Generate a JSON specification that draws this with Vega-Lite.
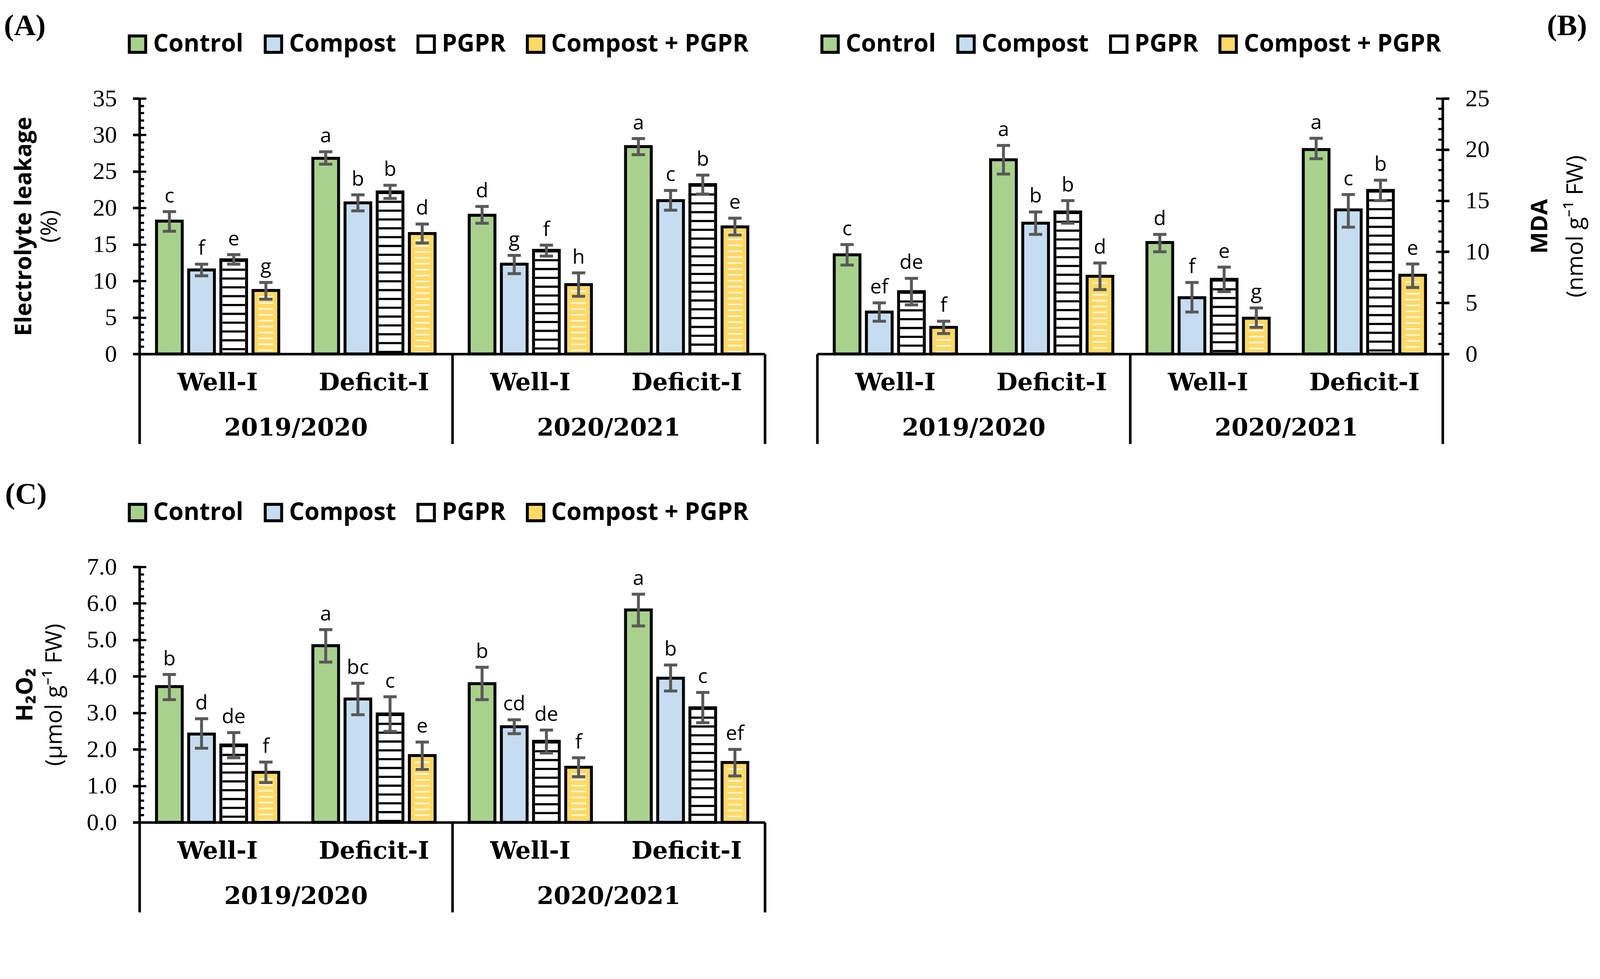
{
  "$schema": "https://vega.github.io/schema/vega-lite/v6.json",
  "background": "white",
  "padding": {"left": 9, "top": 28, "right": 5, "bottom": 5},
  "config": {
    "view": {"stroke": null},
    "axis": {"labelColor": "black", "titleColor": "black"}
  },
  "datasets": {
    "EL": [
      {"year":"2019/2020","cell":"2019/2020 Well-I","trt":"Control","v":18.2,"lo":16.8,"hi":19.5,"let":"c"},
      {"year":"2019/2020","cell":"2019/2020 Well-I","trt":"Compost","v":11.5,"lo":10.7,"hi":12.3,"let":"f"},
      {"year":"2019/2020","cell":"2019/2020 Well-I","trt":"PGPR","v":12.9,"lo":12.3,"hi":13.6,"let":"e"},
      {"year":"2019/2020","cell":"2019/2020 Well-I","trt":"Compost + PGPR","v":8.7,"lo":7.5,"hi":9.8,"let":"g"},
      {"year":"2019/2020","cell":"2019/2020 Deficit-I","trt":"Control","v":26.8,"lo":26.0,"hi":27.7,"let":"a"},
      {"year":"2019/2020","cell":"2019/2020 Deficit-I","trt":"Compost","v":20.7,"lo":19.6,"hi":21.8,"let":"b"},
      {"year":"2019/2020","cell":"2019/2020 Deficit-I","trt":"PGPR","v":22.2,"lo":21.3,"hi":23.1,"let":"b"},
      {"year":"2019/2020","cell":"2019/2020 Deficit-I","trt":"Compost + PGPR","v":16.5,"lo":15.2,"hi":17.8,"let":"d"},
      {"year":"2020/2021","cell":"2020/2021 Well-I","trt":"Control","v":19.0,"lo":17.9,"hi":20.2,"let":"d"},
      {"year":"2020/2021","cell":"2020/2021 Well-I","trt":"Compost","v":12.3,"lo":11.0,"hi":13.5,"let":"g"},
      {"year":"2020/2021","cell":"2020/2021 Well-I","trt":"PGPR","v":14.2,"lo":13.4,"hi":14.9,"let":"f"},
      {"year":"2020/2021","cell":"2020/2021 Well-I","trt":"Compost + PGPR","v":9.5,"lo":7.9,"hi":11.1,"let":"h"},
      {"year":"2020/2021","cell":"2020/2021 Deficit-I","trt":"Control","v":28.4,"lo":27.3,"hi":29.5,"let":"a"},
      {"year":"2020/2021","cell":"2020/2021 Deficit-I","trt":"Compost","v":21.0,"lo":19.7,"hi":22.4,"let":"c"},
      {"year":"2020/2021","cell":"2020/2021 Deficit-I","trt":"PGPR","v":23.2,"lo":21.9,"hi":24.5,"let":"b"},
      {"year":"2020/2021","cell":"2020/2021 Deficit-I","trt":"Compost + PGPR","v":17.4,"lo":16.3,"hi":18.6,"let":"e"}
    ],
    "MDA": [
      {"year":"2019/2020","cell":"2019/2020 Well-I","trt":"Control","v":9.7,"lo":8.7,"hi":10.7,"let":"c"},
      {"year":"2019/2020","cell":"2019/2020 Well-I","trt":"Compost","v":4.1,"lo":3.2,"hi":5.0,"let":"ef"},
      {"year":"2019/2020","cell":"2019/2020 Well-I","trt":"PGPR","v":6.1,"lo":4.8,"hi":7.4,"let":"de"},
      {"year":"2019/2020","cell":"2019/2020 Well-I","trt":"Compost + PGPR","v":2.6,"lo":2.0,"hi":3.2,"let":"f"},
      {"year":"2019/2020","cell":"2019/2020 Deficit-I","trt":"Control","v":19.0,"lo":17.6,"hi":20.4,"let":"a"},
      {"year":"2019/2020","cell":"2019/2020 Deficit-I","trt":"Compost","v":12.8,"lo":11.7,"hi":13.9,"let":"b"},
      {"year":"2019/2020","cell":"2019/2020 Deficit-I","trt":"PGPR","v":13.9,"lo":12.8,"hi":15.0,"let":"b"},
      {"year":"2019/2020","cell":"2019/2020 Deficit-I","trt":"Compost + PGPR","v":7.6,"lo":6.3,"hi":8.9,"let":"d"},
      {"year":"2020/2021","cell":"2020/2021 Well-I","trt":"Control","v":10.9,"lo":10.0,"hi":11.7,"let":"d"},
      {"year":"2020/2021","cell":"2020/2021 Well-I","trt":"Compost","v":5.5,"lo":4.1,"hi":7.0,"let":"f"},
      {"year":"2020/2021","cell":"2020/2021 Well-I","trt":"PGPR","v":7.3,"lo":6.1,"hi":8.5,"let":"e"},
      {"year":"2020/2021","cell":"2020/2021 Well-I","trt":"Compost + PGPR","v":3.5,"lo":2.6,"hi":4.5,"let":"g"},
      {"year":"2020/2021","cell":"2020/2021 Deficit-I","trt":"Control","v":20.0,"lo":19.1,"hi":21.1,"let":"a"},
      {"year":"2020/2021","cell":"2020/2021 Deficit-I","trt":"Compost","v":14.1,"lo":12.4,"hi":15.6,"let":"c"},
      {"year":"2020/2021","cell":"2020/2021 Deficit-I","trt":"PGPR","v":16.0,"lo":15.0,"hi":17.0,"let":"b"},
      {"year":"2020/2021","cell":"2020/2021 Deficit-I","trt":"Compost + PGPR","v":7.7,"lo":6.5,"hi":8.8,"let":"e"}
    ],
    "H2O2": [
      {"year":"2019/2020","cell":"2019/2020 Well-I","trt":"Control","v":3.72,"lo":3.36,"hi":4.05,"let":"b"},
      {"year":"2019/2020","cell":"2019/2020 Well-I","trt":"Compost","v":2.42,"lo":2.03,"hi":2.84,"let":"d"},
      {"year":"2019/2020","cell":"2019/2020 Well-I","trt":"PGPR","v":2.12,"lo":1.77,"hi":2.46,"let":"de"},
      {"year":"2019/2020","cell":"2019/2020 Well-I","trt":"Compost + PGPR","v":1.37,"lo":1.09,"hi":1.65,"let":"f"},
      {"year":"2019/2020","cell":"2019/2020 Deficit-I","trt":"Control","v":4.84,"lo":4.39,"hi":5.28,"let":"a"},
      {"year":"2019/2020","cell":"2019/2020 Deficit-I","trt":"Compost","v":3.38,"lo":2.95,"hi":3.81,"let":"bc"},
      {"year":"2019/2020","cell":"2019/2020 Deficit-I","trt":"PGPR","v":2.97,"lo":2.49,"hi":3.44,"let":"c"},
      {"year":"2019/2020","cell":"2019/2020 Deficit-I","trt":"Compost + PGPR","v":1.83,"lo":1.45,"hi":2.2,"let":"e"},
      {"year":"2020/2021","cell":"2020/2021 Well-I","trt":"Control","v":3.8,"lo":3.36,"hi":4.25,"let":"b"},
      {"year":"2020/2021","cell":"2020/2021 Well-I","trt":"Compost","v":2.62,"lo":2.43,"hi":2.81,"let":"cd"},
      {"year":"2020/2021","cell":"2020/2021 Well-I","trt":"PGPR","v":2.22,"lo":1.9,"hi":2.53,"let":"de"},
      {"year":"2020/2021","cell":"2020/2021 Well-I","trt":"Compost + PGPR","v":1.51,"lo":1.25,"hi":1.77,"let":"f"},
      {"year":"2020/2021","cell":"2020/2021 Deficit-I","trt":"Control","v":5.82,"lo":5.38,"hi":6.25,"let":"a"},
      {"year":"2020/2021","cell":"2020/2021 Deficit-I","trt":"Compost","v":3.95,"lo":3.6,"hi":4.31,"let":"b"},
      {"year":"2020/2021","cell":"2020/2021 Deficit-I","trt":"PGPR","v":3.14,"lo":2.73,"hi":3.56,"let":"c"},
      {"year":"2020/2021","cell":"2020/2021 Deficit-I","trt":"Compost + PGPR","v":1.64,"lo":1.27,"hi":2.0,"let":"ef"}
    ]
  },
  "resolve": {"scale": {"fill": "independent"}, "legend": {"fill": "independent"}},
  "spacing": 87,
  "vconcat": [
    {
      "resolve": {"scale": {"fill": "independent"}, "legend": {"fill": "independent"}},
      "spacing": 126,
      "hconcat": [
        {
          "width": 1601, "height": 654,
          "data": {"name": "EL"},
          "title": {"text": "(A)", "anchor": "start", "frame": "bounds", "font": "Liberation Serif", "fontSize": 77, "fontWeight": "bold", "color": "black", "offset": -24, "dx": -22},
          "layer": [
            {
              "layer": [
                {
                  "mark": {"type": "bar"},
                  "encoding": {
                    "x": {"field": "cell", "type": "nominal", "scale": {"domain": ["2019/2020 Well-I","2019/2020 Deficit-I","2020/2021 Well-I","2020/2021 Deficit-I"], "paddingInner": 0, "paddingOuter": 0},
                      "axis": {"title": null, "labelExpr": "split(datum.label, ' ')[1]", "ticks": false, "labelPadding": 73, "labelBaseline": "middle", "labelAngle": 0, "labelLimit": 1000, "labelFont": "DejaVu Serif", "labelFontWeight": "bold", "labelFontSize": 62, "domainColor": "black", "domainWidth": 6.6, "grid": false}},
                    "xOffset": {"field": "trt", "type": "nominal", "scale": {"domain": ["Control","Compost","PGPR","Compost + PGPR"], "paddingInner": 0.2, "paddingOuter": 0.53}},
                    "y": {"field": "v", "type": "quantitative", "scale": {"domain": [0, 35], "nice": false},
                      "axis": {"values": [0,5,10,15,20,25,30,35], "labelOverlap": false, "grid": false,
                        "tickSize": 17, "tickWidth": 6.6, "tickColor": "black",
                        "domainColor": "black", "domainWidth": 6.6,
                        "labelFont": "Liberation Serif", "labelFontSize": 62, "labelPadding": 41,
                        "title": "Electrolyte leakage", "titleFont": "Open Sans", "titleFontSize": 59, "titleFontWeight": "bold", "titleX": -296, "titleBaseline": "middle", "titleAngle": -90}},
                    "fill": {"field": "trt", "type": "nominal", "scale": {"domain": ["Control","Compost","PGPR","Compost + PGPR"], "range": ["#A9D18E","#C6DDF1","#FFFFFF","#FFD966"]},
                      "legend": {"orient": "none", "legendX": -36, "legendY": -170, "direction": "horizontal", "title": null, "symbolType": "square", "symbolSize": 1764, "symbolStrokeColor": "black", "symbolStrokeWidth": 7.5, "symbolOpacity": 1, "labelFont": "Open Sans", "labelFontSize": 62, "labelFontWeight": "bold", "labelColor": "black", "labelOffset": 9, "columnPadding": 40, "labelLimit": 1000}}
                  }
                },
                {
                  "transform": [{"filter": "datum.trt === 'PGPR'"}],
                  "mark": {"type": "rule", "stroke": "black", "strokeWidth": 58, "strokeDash": [5.6, 17]},
                  "encoding": {"x": {"field": "cell", "type": "nominal"}, "xOffset": {"field": "trt", "type": "nominal"}, "y": {"field": "v", "type": "quantitative"}, "y2": {"datum": 0}}
                },
                {
                  "transform": [{"filter": "datum.trt === 'Compost + PGPR'"}],
                  "mark": {"type": "rule", "stroke": "white", "strokeWidth": 38, "strokeDash": [3.8, 11.3], "opacity": 0.85},
                  "encoding": {"x": {"field": "cell", "type": "nominal"}, "xOffset": {"field": "trt", "type": "nominal"}, "y": {"field": "v", "type": "quantitative"}, "y2": {"datum": 0}}
                },
                {
                  "mark": {"type": "bar", "fillOpacity": 0, "stroke": "black", "strokeWidth": 7.5},
                  "encoding": {"x": {"field": "cell", "type": "nominal"}, "xOffset": {"field": "trt", "type": "nominal"}, "y": {"field": "v", "type": "quantitative"}}
                },
                {
                  "mark": {"type": "rule", "stroke": "#595959", "strokeWidth": 7.5},
                  "encoding": {"x": {"field": "cell", "type": "nominal"}, "xOffset": {"field": "trt", "type": "nominal"}, "y": {"field": "lo", "type": "quantitative"}, "y2": {"field": "hi"}}
                },
                {
                  "mark": {"type": "tick", "color": "#595959", "thickness": 7.5, "size": 34, "opacity": 1},
                  "encoding": {"x": {"field": "cell", "type": "nominal"}, "xOffset": {"field": "trt", "type": "nominal"}, "y": {"field": "lo", "type": "quantitative"}}
                },
                {
                  "mark": {"type": "tick", "color": "#595959", "thickness": 7.5, "size": 34, "opacity": 1},
                  "encoding": {"x": {"field": "cell", "type": "nominal"}, "xOffset": {"field": "trt", "type": "nominal"}, "y": {"field": "hi", "type": "quantitative"}}
                },
                {
                  "mark": {"type": "text", "baseline": "alphabetic", "dy": -24, "font": "Open Sans", "fontSize": 52, "color": "black"},
                  "encoding": {"x": {"field": "cell", "type": "nominal"}, "xOffset": {"field": "trt", "type": "nominal"}, "y": {"field": "hi", "type": "quantitative"}, "text": {"field": "let"}}
                }
              ]
            },
            {
              "mark": {"type": "point", "opacity": 0},
              "encoding": {
                "x": {"field": "year", "type": "nominal", "scale": {"domain": ["2019/2020","2020/2021"], "paddingInner": 0, "paddingOuter": 0},
                  "axis": {"orient": "bottom", "title": null, "domain": false, "grid": false, "tickBand": "extent", "tickSize": 230, "tickWidth": 6.6, "tickColor": "black", "labelFont": "DejaVu Serif", "labelFontWeight": "bold", "labelFontSize": 62, "labelAngle": 0, "labelLimit": 1000, "labelBaseline": "middle", "labelPadding": -41}},
                "y": {"field": "v", "type": "quantitative",
                  "axis": {"orient": "left", "domain": false, "labels": false, "grid": false,
                    "values": [0,1,2,3,4,5,6,7,8,9,10,11,12,13,14,15,16,17,18,19,20,21,22,23,24,25,26,27,28,29,30,31,32,33,34,35],
                    "ticks": true, "tickColor": "black", "tickWidth": 5.6,
                    "tickSize": {"condition": {"test": "datum.value % 5 === 0", "value": -17}, "value": -11.3},
                    "title": "(%)", "titleFont": "Open Sans", "titleFontSize": 59, "titleFontWeight": "normal", "titleX": -230, "titleBaseline": "middle", "titleAngle": -90}}
              }
            }
          ],
          "resolve": {"scale": {"x": "independent"}, "axis": {"x": "independent", "y": "independent"}}
        },
        {
          "width": 1601, "height": 654,
          "data": {"name": "MDA"},
          "title": {"text": "(B)", "anchor": "end", "frame": "bounds", "font": "Liberation Serif", "fontSize": 77, "fontWeight": "bold", "color": "black", "offset": -24},
          "layer": [
            {
              "layer": [
                {
                  "mark": {"type": "bar"},
                  "encoding": {
                    "x": {"field": "cell", "type": "nominal", "scale": {"domain": ["2019/2020 Well-I","2019/2020 Deficit-I","2020/2021 Well-I","2020/2021 Deficit-I"], "paddingInner": 0, "paddingOuter": 0},
                      "axis": {"title": null, "labelExpr": "split(datum.label, ' ')[1]", "ticks": false, "labelPadding": 73, "labelBaseline": "middle", "labelAngle": 0, "labelLimit": 1000, "labelFont": "DejaVu Serif", "labelFontWeight": "bold", "labelFontSize": 62, "domainColor": "black", "domainWidth": 6.6, "grid": false}},
                    "xOffset": {"field": "trt", "type": "nominal", "scale": {"domain": ["Control","Compost","PGPR","Compost + PGPR"], "paddingInner": 0.2, "paddingOuter": 0.53}},
                    "y": {"field": "v", "type": "quantitative", "scale": {"domain": [0, 25], "nice": false},
                      "axis": {"orient": "right", "values": [0,5,10,15,20,25], "labelOverlap": false, "grid": false,
                        "tickSize": 17, "tickWidth": 6.6, "tickColor": "black",
                        "domainColor": "black", "domainWidth": 6.6,
                        "labelFont": "Liberation Serif", "labelFontSize": 62, "labelPadding": 41,
                        "title": "MDA", "titleFont": "Open Sans", "titleFontSize": 59, "titleFontWeight": "bold", "titleX": 249, "titleBaseline": "middle", "titleAngle": -90}},
                    "fill": {"field": "trt", "type": "nominal", "scale": {"domain": ["Control","Compost","PGPR","Compost + PGPR"], "range": ["#A9D18E","#C6DDF1","#FFFFFF","#FFD966"]},
                      "legend": {"orient": "none", "legendX": 2, "legendY": -170, "direction": "horizontal", "title": null, "symbolType": "square", "symbolSize": 1764, "symbolStrokeColor": "black", "symbolStrokeWidth": 7.5, "symbolOpacity": 1, "labelFont": "Open Sans", "labelFontSize": 62, "labelFontWeight": "bold", "labelColor": "black", "labelOffset": 9, "columnPadding": 40, "labelLimit": 1000}}
                  }
                },
                {
                  "transform": [{"filter": "datum.trt === 'PGPR'"}],
                  "mark": {"type": "rule", "stroke": "black", "strokeWidth": 58, "strokeDash": [5.6, 17]},
                  "encoding": {"x": {"field": "cell", "type": "nominal"}, "xOffset": {"field": "trt", "type": "nominal"}, "y": {"field": "v", "type": "quantitative"}, "y2": {"datum": 0}}
                },
                {
                  "transform": [{"filter": "datum.trt === 'Compost + PGPR'"}],
                  "mark": {"type": "rule", "stroke": "white", "strokeWidth": 38, "strokeDash": [3.8, 11.3], "opacity": 0.85},
                  "encoding": {"x": {"field": "cell", "type": "nominal"}, "xOffset": {"field": "trt", "type": "nominal"}, "y": {"field": "v", "type": "quantitative"}, "y2": {"datum": 0}}
                },
                {
                  "mark": {"type": "bar", "fillOpacity": 0, "stroke": "black", "strokeWidth": 7.5},
                  "encoding": {"x": {"field": "cell", "type": "nominal"}, "xOffset": {"field": "trt", "type": "nominal"}, "y": {"field": "v", "type": "quantitative"}}
                },
                {
                  "mark": {"type": "rule", "stroke": "#595959", "strokeWidth": 7.5},
                  "encoding": {"x": {"field": "cell", "type": "nominal"}, "xOffset": {"field": "trt", "type": "nominal"}, "y": {"field": "lo", "type": "quantitative"}, "y2": {"field": "hi"}}
                },
                {
                  "mark": {"type": "tick", "color": "#595959", "thickness": 7.5, "size": 34, "opacity": 1},
                  "encoding": {"x": {"field": "cell", "type": "nominal"}, "xOffset": {"field": "trt", "type": "nominal"}, "y": {"field": "lo", "type": "quantitative"}}
                },
                {
                  "mark": {"type": "tick", "color": "#595959", "thickness": 7.5, "size": 34, "opacity": 1},
                  "encoding": {"x": {"field": "cell", "type": "nominal"}, "xOffset": {"field": "trt", "type": "nominal"}, "y": {"field": "hi", "type": "quantitative"}}
                },
                {
                  "mark": {"type": "text", "baseline": "alphabetic", "dy": -24, "font": "Open Sans", "fontSize": 52, "color": "black"},
                  "encoding": {"x": {"field": "cell", "type": "nominal"}, "xOffset": {"field": "trt", "type": "nominal"}, "y": {"field": "hi", "type": "quantitative"}, "text": {"field": "let"}}
                }
              ]
            },
            {
              "mark": {"type": "point", "opacity": 0},
              "encoding": {
                "x": {"field": "year", "type": "nominal", "scale": {"domain": ["2019/2020","2020/2021"], "paddingInner": 0, "paddingOuter": 0},
                  "axis": {"orient": "bottom", "title": null, "domain": false, "grid": false, "tickBand": "extent", "tickSize": 230, "tickWidth": 6.6, "tickColor": "black", "labelFont": "DejaVu Serif", "labelFontWeight": "bold", "labelFontSize": 62, "labelAngle": 0, "labelLimit": 1000, "labelBaseline": "middle", "labelPadding": -41}},
                "y": {"field": "v", "type": "quantitative",
                  "axis": {"orient": "right", "domain": false, "labels": false, "grid": false,
                    "values": [0,1,2,3,4,5,6,7,8,9,10,11,12,13,14,15,16,17,18,19,20,21,22,23,24,25],
                    "ticks": true, "tickColor": "black", "tickWidth": 5.6,
                    "tickSize": {"condition": {"test": "datum.value % 5 === 0", "value": -17}, "value": -11.3},
                    "title": "(nmol g⁻¹ FW)", "titleFont": "Open Sans", "titleFontSize": 59, "titleFontWeight": "normal", "titleX": 340, "titleBaseline": "middle", "titleAngle": -90}}
              }
            }
          ],
          "resolve": {"scale": {"x": "independent"}, "axis": {"x": "independent", "y": "independent"}}
        }
      ]
    },
    {
      "width": 1601, "height": 654,
      "data": {"name": "H2O2"},
      "title": {"text": "(C)", "anchor": "start", "frame": "bounds", "font": "Liberation Serif", "fontSize": 77, "fontWeight": "bold", "color": "black", "offset": -24, "dx": -22},
      "layer": [
        {
          "layer": [
            {
              "mark": {"type": "bar"},
              "encoding": {
                "x": {"field": "cell", "type": "nominal", "scale": {"domain": ["2019/2020 Well-I","2019/2020 Deficit-I","2020/2021 Well-I","2020/2021 Deficit-I"], "paddingInner": 0, "paddingOuter": 0},
                  "axis": {"title": null, "labelExpr": "split(datum.label, ' ')[1]", "ticks": false, "labelPadding": 73, "labelBaseline": "middle", "labelAngle": 0, "labelLimit": 1000, "labelFont": "DejaVu Serif", "labelFontWeight": "bold", "labelFontSize": 62, "domainColor": "black", "domainWidth": 6.6, "grid": false}},
                "xOffset": {"field": "trt", "type": "nominal", "scale": {"domain": ["Control","Compost","PGPR","Compost + PGPR"], "paddingInner": 0.2, "paddingOuter": 0.53}},
                "y": {"field": "v", "type": "quantitative", "scale": {"domain": [0, 7], "nice": false},
                  "axis": {"values": [0,1,2,3,4,5,6,7], "format": ".1f", "labelOverlap": false, "grid": false,
                    "tickSize": 17, "tickWidth": 6.6, "tickColor": "black",
                    "domainColor": "black", "domainWidth": 6.6,
                    "labelFont": "Liberation Serif", "labelFontSize": 62, "labelPadding": 41,
                    "title": "H₂O₂", "titleFont": "Open Sans", "titleFontSize": 59, "titleFontWeight": "bold", "titleX": -293, "titleBaseline": "middle", "titleAngle": -90}},
                "fill": {"field": "trt", "type": "nominal", "scale": {"domain": ["Control","Compost","PGPR","Compost + PGPR"], "range": ["#A9D18E","#C6DDF1","#FFFFFF","#FFD966"]},
                  "legend": {"orient": "none", "legendX": -36, "legendY": -170, "direction": "horizontal", "title": null, "symbolType": "square", "symbolSize": 1764, "symbolStrokeColor": "black", "symbolStrokeWidth": 7.5, "symbolOpacity": 1, "labelFont": "Open Sans", "labelFontSize": 62, "labelFontWeight": "bold", "labelColor": "black", "labelOffset": 9, "columnPadding": 40, "labelLimit": 1000}}
              }
            },
            {
              "transform": [{"filter": "datum.trt === 'PGPR'"}],
              "mark": {"type": "rule", "stroke": "black", "strokeWidth": 58, "strokeDash": [5.6, 17]},
              "encoding": {"x": {"field": "cell", "type": "nominal"}, "xOffset": {"field": "trt", "type": "nominal"}, "y": {"field": "v", "type": "quantitative"}, "y2": {"datum": 0}}
            },
            {
              "transform": [{"filter": "datum.trt === 'Compost + PGPR'"}],
              "mark": {"type": "rule", "stroke": "white", "strokeWidth": 38, "strokeDash": [3.8, 11.3], "opacity": 0.85},
              "encoding": {"x": {"field": "cell", "type": "nominal"}, "xOffset": {"field": "trt", "type": "nominal"}, "y": {"field": "v", "type": "quantitative"}, "y2": {"datum": 0}}
            },
            {
              "mark": {"type": "bar", "fillOpacity": 0, "stroke": "black", "strokeWidth": 7.5},
              "encoding": {"x": {"field": "cell", "type": "nominal"}, "xOffset": {"field": "trt", "type": "nominal"}, "y": {"field": "v", "type": "quantitative"}}
            },
            {
              "mark": {"type": "rule", "stroke": "#595959", "strokeWidth": 7.5},
              "encoding": {"x": {"field": "cell", "type": "nominal"}, "xOffset": {"field": "trt", "type": "nominal"}, "y": {"field": "lo", "type": "quantitative"}, "y2": {"field": "hi"}}
            },
            {
              "mark": {"type": "tick", "color": "#595959", "thickness": 7.5, "size": 34, "opacity": 1},
              "encoding": {"x": {"field": "cell", "type": "nominal"}, "xOffset": {"field": "trt", "type": "nominal"}, "y": {"field": "lo", "type": "quantitative"}}
            },
            {
              "mark": {"type": "tick", "color": "#595959", "thickness": 7.5, "size": 34, "opacity": 1},
              "encoding": {"x": {"field": "cell", "type": "nominal"}, "xOffset": {"field": "trt", "type": "nominal"}, "y": {"field": "hi", "type": "quantitative"}}
            },
            {
              "mark": {"type": "text", "baseline": "alphabetic", "dy": -24, "font": "Open Sans", "fontSize": 52, "color": "black"},
              "encoding": {"x": {"field": "cell", "type": "nominal"}, "xOffset": {"field": "trt", "type": "nominal"}, "y": {"field": "hi", "type": "quantitative"}, "text": {"field": "let"}}
            }
          ]
        },
        {
          "mark": {"type": "point", "opacity": 0},
          "encoding": {
            "x": {"field": "year", "type": "nominal", "scale": {"domain": ["2019/2020","2020/2021"], "paddingInner": 0, "paddingOuter": 0},
              "axis": {"orient": "bottom", "title": null, "domain": false, "grid": false, "tickBand": "extent", "tickSize": 230, "tickWidth": 6.6, "tickColor": "black", "labelFont": "DejaVu Serif", "labelFontWeight": "bold", "labelFontSize": 62, "labelAngle": 0, "labelLimit": 1000, "labelBaseline": "middle", "labelPadding": -41}},
            "y": {"field": "v", "type": "quantitative",
              "axis": {"orient": "left", "domain": false, "labels": false, "grid": false,
                "values": [0,0.2,0.4,0.6,0.8,1,1.2,1.4,1.6,1.8,2,2.2,2.4,2.6,2.8,3,3.2,3.4,3.6,3.8,4,4.2,4.4,4.6,4.8,5,5.2,5.4,5.6,5.8,6,6.2,6.4,6.6,6.8,7],
                "ticks": true, "tickColor": "black", "tickWidth": 5.6,
                "tickSize": {"condition": {"test": "abs(datum.value - round(datum.value)) < 0.01", "value": -17}, "value": -11.3},
                "title": "(µmol g⁻¹ FW)", "titleFont": "Open Sans", "titleFontSize": 59, "titleFontWeight": "normal", "titleX": -218, "titleBaseline": "middle", "titleAngle": -90}}
          }
        }
      ],
      "resolve": {"scale": {"x": "independent"}, "axis": {"x": "independent", "y": "independent"}}
    }
  ]
}
